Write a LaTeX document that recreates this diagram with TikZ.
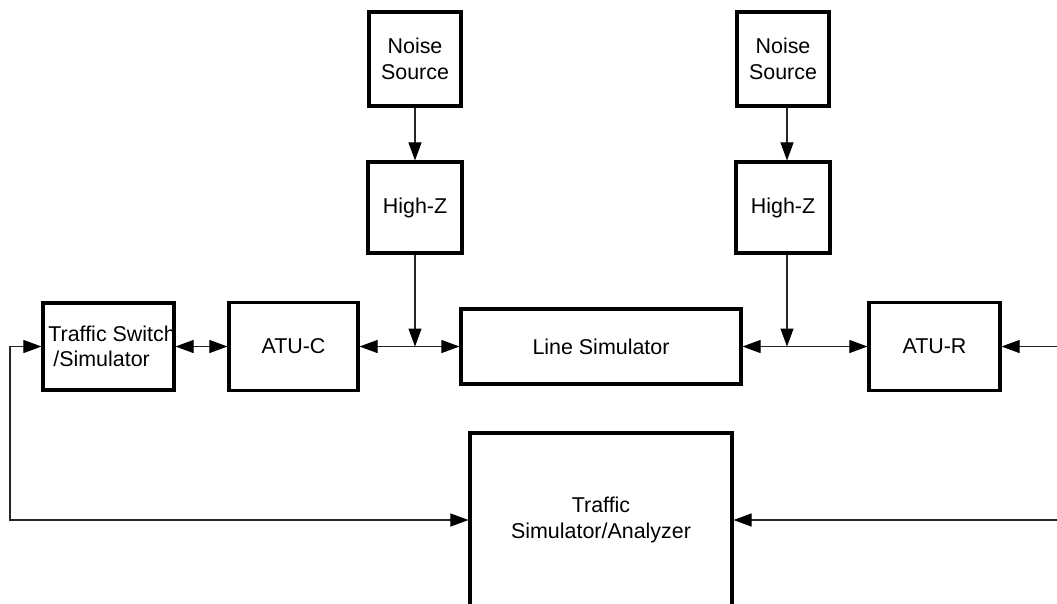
\documentclass[tikz,border=0pt]{standalone}
\usepackage{fontspec}
\setmainfont{Liberation Sans}
\usepackage{tikz}
\usetikzlibrary{arrows.meta,calc,positioning}

\begin{document}
\begin{tikzpicture}[
		x=0.02cm, y=-0.02cm,
		bloc/.style={draw, line width=1.8pt, inner sep=0pt, align=center,
			font=\fontsize{12.2}{15}\selectfont},
		texte/.style={inner sep=0pt, align=left, font=\fontsize{12.2}{14.5}\selectfont},
		fil/.style={draw, line width=0.6pt, black!85},
		>={Triangle[length=0.36cm, width=0.26cm, black]}
		]
		\useasboundingbox (0,0) rectangle (1057,603);
		
		% Les blocs
		\node[bloc, minimum width=1.84cm, minimum height=1.88cm] (ns1) at (415,59) {Noise\\Source};
		\node[bloc, minimum width=1.88cm, minimum height=1.82cm] (hz1) at (415,207.5) {High-Z};
		\node[bloc, minimum width=1.84cm, minimum height=1.88cm] (ns2) at (783,59) {Noise\\Source};
		\node[bloc, minimum width=1.88cm, minimum height=1.82cm] (hz2) at (783,207.5) {High-Z};
		\node[bloc, minimum width=2.62cm, minimum height=1.74cm] (tsw) at (108.5,346.5) {};
		\node[texte, anchor=west] (tswtxt) at (48,346.5) {Traffic Switch\\\hspace{0.1cm}/Simulator};
		\node[bloc, minimum width=2.58cm, minimum height=1.76cm] (atuc) at (293.5,346.5) {ATU-C};
		\node[bloc, minimum width=5.6cm, minimum height=1.5cm] (lsim) at (601,346.5) {Line Simulator};
		\node[bloc, minimum width=2.62cm, minimum height=1.76cm] (atur) at (934.5,346.5) {ATU-R};
		\node[bloc, minimum width=5.24cm, minimum height=3.48cm] (tsa) at (601,520) {Traffic\\Simulator/Analyzer};
		
		% Points de jonction et bords
		\coordinate (j1) at (415,346.5);
		\coordinate (j2) at (787,346.5);
		\coordinate (g1) at (10,346.5);
		\coordinate (g2) at (10,520);
		\coordinate (d1) at (1057,346.5);
		\coordinate (d2) at (1057,520);
		
		% Les liaisons
		\draw[fil, ->] (ns1) -- (hz1);
		\draw[fil, ->] (ns2.south -| j2) -- (hz2.north -| j2);
		\draw[fil, ->] (hz1) -- (j1);
		\draw[fil, ->] (hz2.south -| j2) -- (j2);
		\draw[fil, <->] (tsw) -- (atuc);
		\draw[fil, <->] (atuc) -- (lsim);
		\draw[fil, <->] (lsim) -- (atur);
		\draw[fil, <->] (tsw.west) -- (g1) -- (g2) -- (tsa.west);
		\draw[fil, ->] (d1) -- (atur);
		\draw[fil, ->] (d2) -- (tsa);
	\end{tikzpicture}
\end{document}
